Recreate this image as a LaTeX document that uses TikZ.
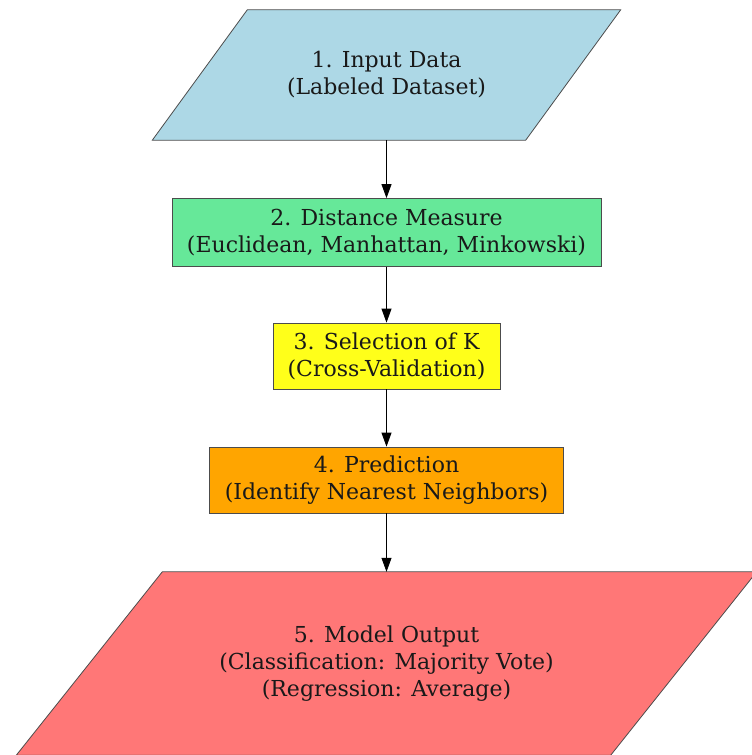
\documentclass[tikz,border=0pt]{standalone}
\usepackage{fontspec}
\setmainfont{DejaVu Serif}
\usetikzlibrary{arrows.meta,positioning,backgrounds}
\definecolor{inblue}{HTML}{ADD8E6}
\definecolor{distgreen}{HTML}{66E899}
\definecolor{kyellow}{HTML}{FFFF1A}
\definecolor{predorange}{HTML}{FFA500}
\definecolor{outred}{HTML}{FF7777}
\begin{document}
\begin{tikzpicture}[x=1pt,y=1pt,
  edge/.style={draw=black!70, line width=0.8pt},
  flow/.style={align=center, inner sep=0pt, text=black!90, font=\fontsize{22}{27}\selectfont},
  stepbox/.style={flow, edge, rectangle},
  link/.style={-{Triangle[length=14pt,width=10pt]}, line width=0.8pt}]
\useasboundingbox (0,0) rectangle (752,-755);
\node[flow, minimum width=468, minimum height=130] (in) at (386.5,-75) {1. Input Data\\(Labeled Dataset)};
\node[stepbox, fill=distgreen, minimum width=429, minimum height=68] (dist) at (386.5,-232.5)
  {2. Distance Measure\\(Euclidean, Manhattan, Minkowski)};
\node[stepbox, fill=kyellow, minimum width=227, minimum height=66] (selk) at (386.5,-356)
  {3. Selection of K\\(Cross-Validation)};
\node[stepbox, fill=predorange, minimum width=354, minimum height=66] (pred) at (386.5,-480)
  {4. Prediction\\(Identify Nearest Neighbors)};
\node[flow, minimum width=740, minimum height=183] (out) at (386.5,-663.5)
  {5. Model Output\\(Classification: Majority Vote)\\(Regression: Average)};
% parallelograms behind the two data nodes
\begin{scope}[on background layer]
\filldraw[edge, fill=inblue] (in.south west) -- ([xshift=-95]in.south east)
  -- (in.north east) -- ([xshift=95]in.north west) -- cycle;
\filldraw[edge, fill=outred] (out.south west) -- ([xshift=-146]out.south east)
  -- (out.north east) -- ([xshift=146]out.north west) -- cycle;
\end{scope}
\draw[link] (in) -- (dist);
\draw[link] (dist) -- (selk);
\draw[link] (selk) -- (pred);
\draw[link] (pred) -- (out);
\end{tikzpicture}
\end{document}
